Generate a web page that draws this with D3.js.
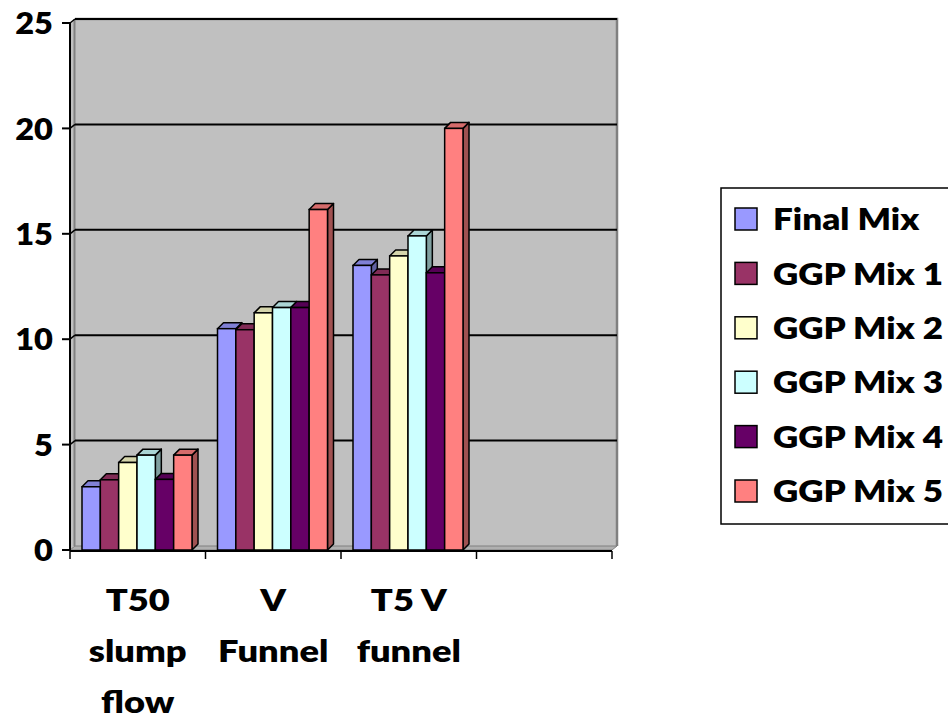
<!DOCTYPE html>
<html>
<head>
<meta charset="utf-8">
<script src="https://cdn.jsdelivr.net/npm/d3@7"></script>
<style>
  html, body { margin: 0; padding: 0; background: #ffffff; }
  svg { display: block; }
  text { font-family: Lato, "Open Sans", sans-serif; font-weight: 800; fill: #000; }
</style>
</head>
<body>
<svg id="chart" width="948" height="718"></svg>
<script>
// Test results per mix (seconds)
const categories = ["T50\nslump\nflow", "V\nFunnel", "T5 V\nfunnel", ""];
const seriesNames = ["Final Mix", "GGP Mix 1", "GGP Mix 2", "GGP Mix 3", "GGP Mix 4", "GGP Mix 5"];
const finalMix = [3.0, 10.5, 13.5];
const ggpMix1  = [3.33, 10.45, 13.05];
const ggpMix2  = [4.15, 11.25, 13.95];
const ggpMix3  = [4.5, 11.5, 14.9];
const ggpMix4  = [3.35, 11.5, 13.15];
const ggpMix5  = [4.5, 16.15, 20.0];
const seriesValues = [finalMix, ggpMix1, ggpMix2, ggpMix3, ggpMix4, ggpMix5];
const seriesColors = ["#9999FF", "#993366", "#FFFFCC", "#CCFFFF", "#660066", "#FF8080"];
const yTicks = [0, 5, 10, 15, 20, 25];

const svg = d3.select("#chart");

const plotLeft = 70, plotRight = 612, plotBottom = 550, plotTop = 23;
const wall = { dx: 5, dy: 4 };   // depth of the back wall
const bar = { dx: 6, dy: 6 };    // depth of each column

const x = d3.scaleBand().domain(categories).range([plotLeft, plotRight]);
const x1 = d3.scaleBand().domain(seriesNames).range([12, 122]);
const y = d3.scaleLinear().domain([0, 25]).range([plotBottom, plotTop]);

// Text helper: labels are set in a bold face, widened horizontally
function label(parent, ax, ay, size, sx, anchor) {
  return parent.append("text")
    .attr("transform", `translate(${ax},${ay}) scale(${sx},1)`)
    .attr("text-anchor", anchor)
    .style("font-size", size + "px");
}

// Back wall
svg.append("rect")
  .attr("x", plotLeft + wall.dx).attr("y", plotTop - wall.dy)
  .attr("width", plotRight - plotLeft).attr("height", plotBottom - plotTop)
  .attr("fill", "#C0C0C0");
svg.append("path")
  .attr("d", `M${plotLeft + wall.dx},${plotTop - wall.dy}H${plotRight + wall.dx}V${plotBottom - wall.dy}`)
  .attr("fill", "none").attr("stroke", "#808080").attr("stroke-width", 2.5);

// Left side wall
svg.append("path")
  .attr("d", `M${plotLeft},${plotBottom}V${plotTop}L${plotLeft + wall.dx},${plotTop - wall.dy}V${plotBottom - wall.dy}Z`)
  .attr("fill", "#C0C0C0");
svg.append("line")
  .attr("x1", plotLeft + wall.dx - 0.5).attr("x2", plotLeft + wall.dx - 0.5)
  .attr("y1", plotTop - wall.dy).attr("y2", plotBottom - wall.dy)
  .attr("stroke", "#808080").attr("stroke-width", 2);

// Floor
svg.append("path")
  .attr("d", `M${plotLeft},${plotBottom}H${plotRight}L${plotRight + wall.dx},${plotBottom - wall.dy}H${plotLeft + wall.dx}Z`)
  .attr("fill", "#B0B0B0").attr("stroke", "#808080").attr("stroke-width", 1);

// Gridlines on the back wall, joined to the axis by short diagonals
const grid = svg.append("g");
yTicks.filter(d => d > 0).forEach(v => {
  grid.append("line")
    .attr("x1", plotLeft + wall.dx).attr("x2", plotRight + wall.dx)
    .attr("y1", y(v) - wall.dy).attr("y2", y(v) - wall.dy)
    .attr("stroke", "#000").attr("stroke-width", 2);
  grid.append("line")
    .attr("x1", plotLeft).attr("x2", plotLeft + wall.dx)
    .attr("y1", y(v)).attr("y2", y(v) - wall.dy)
    .attr("stroke", "#000").attr("stroke-width", 1.5);
});

// Columns, drawn left to right so each front face covers the previous side face
const bars = svg.append("g");
categories.forEach((cat, ci) => {
  seriesNames.forEach((name, si) => {
    const v = seriesValues[si][ci];
    if (v == null) return;
    const x0 = x(cat) + x1(name);
    const w = x1.bandwidth();
    const y0 = y(v), yb = y(0);
    const c = d3.color(seriesColors[si]);
    bars.append("path")
      .attr("d", `M${x0 + w},${y0}L${x0 + w + bar.dx},${y0 - bar.dy}V${yb - bar.dy}L${x0 + w},${yb}Z`)
      .attr("fill", c.darker(1.3)).attr("stroke", "#000").attr("stroke-width", 1.5).attr("stroke-linejoin", "round");
    bars.append("path")
      .attr("d", `M${x0},${y0}L${x0 + bar.dx},${y0 - bar.dy}H${x0 + w + bar.dx}L${x0 + w},${y0}Z`)
      .attr("fill", c.darker(0.5)).attr("stroke", "#000").attr("stroke-width", 1.5).attr("stroke-linejoin", "round");
    bars.append("rect")
      .attr("x", x0).attr("y", y0).attr("width", w).attr("height", yb - y0)
      .attr("fill", c).attr("stroke", "#000").attr("stroke-width", 1.5);
  });
});

// Value axis
const yAxis = svg.append("g");
yAxis.append("line").attr("x1", plotLeft).attr("x2", plotLeft).attr("y1", plotTop).attr("y2", plotBottom + 1)
  .attr("stroke", "#000").attr("stroke-width", 2);
yTicks.forEach(v => {
  yAxis.append("line").attr("x1", plotLeft - 8).attr("x2", plotLeft).attr("y1", y(v)).attr("y2", y(v))
    .attr("stroke", "#000").attr("stroke-width", 2);
  label(yAxis, 53, y(v), 31, 1.05, "end").attr("dy", "0.36em").text(v);
});

// Category axis
const xAxis = svg.append("g");
xAxis.append("line").attr("x1", plotLeft).attr("x2", plotRight).attr("y1", plotBottom + 1).attr("y2", plotBottom + 1)
  .attr("stroke", "#000").attr("stroke-width", 2);
const edges = categories.map(c => x(c)).concat([plotRight]);
edges.forEach(ex => {
  xAxis.append("line").attr("x1", ex).attr("x2", ex).attr("y1", plotBottom + 1).attr("y2", plotBottom + 9)
    .attr("stroke", "#000").attr("stroke-width", 1.5);
});
categories.forEach(cat => {
  const t = label(xAxis, x(cat) + x.bandwidth() / 2, 611, 31, 1.17, "middle");
  cat.split("\n").filter(s => s).forEach((line, i) => {
    t.append("tspan").attr("x", 0).attr("y", i * 51).text(line);
  });
});

// Legend
const legend = svg.append("g");
legend.append("rect").attr("x", 721).attr("y", 188).attr("width", 260).attr("height", 336)
  .attr("fill", "#fff").attr("stroke", "#000").attr("stroke-width", 1.5);
seriesNames.forEach((name, i) => {
  const cy = 219 + i * 54.4;
  legend.append("rect").attr("x", 735).attr("y", cy - 11).attr("width", 22).attr("height", 22)
    .attr("fill", seriesColors[i]).attr("stroke", "#000").attr("stroke-width", 1.5);
  label(legend, 773, cy, 31, 1.13, "start").attr("dy", "0.36em").text(name);
});
</script>
</body>
</html>
